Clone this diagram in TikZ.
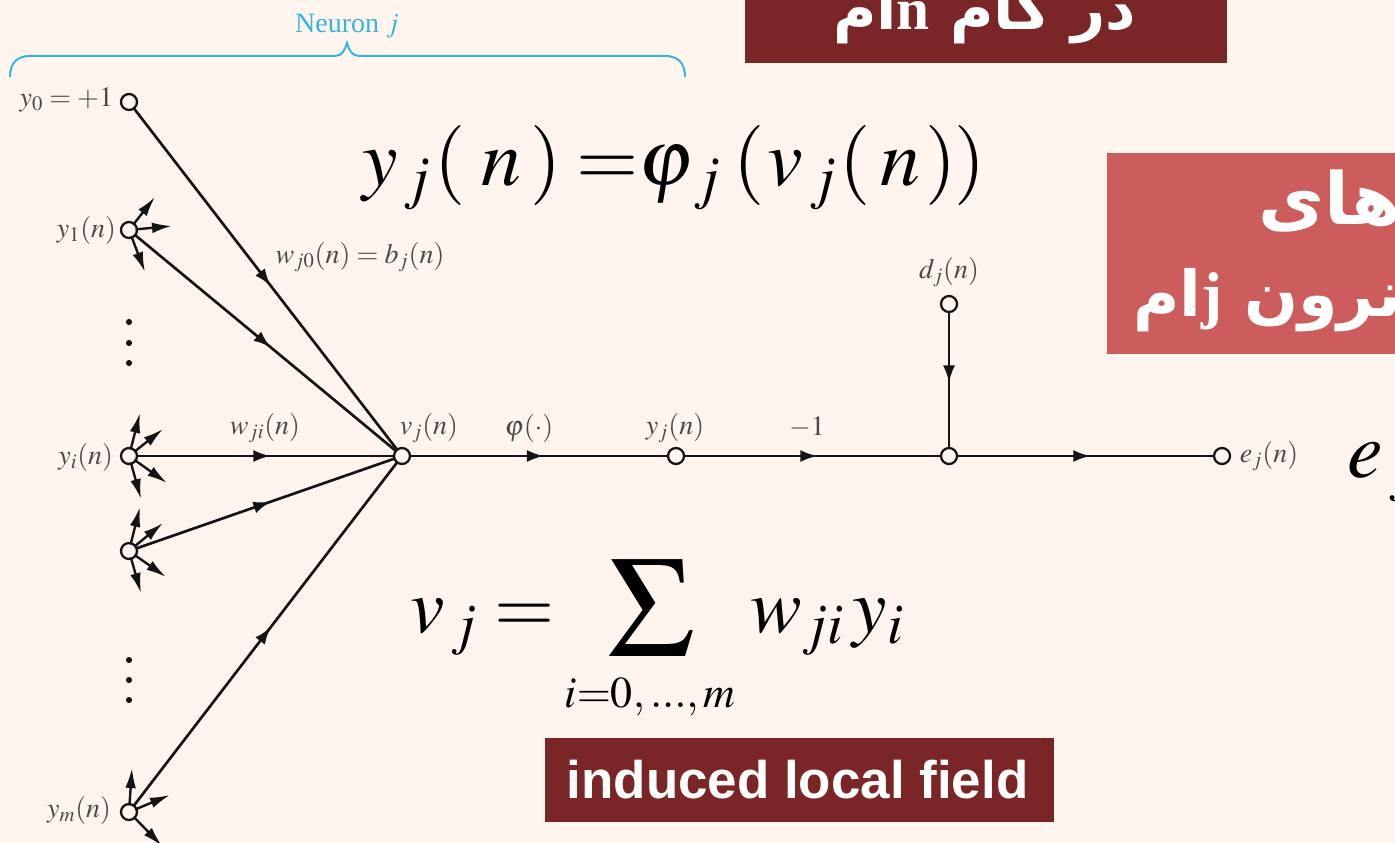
\documentclass[tikz,border=0pt]{standalone}
\usepackage{mathptmx}
\usepackage[no-math]{fontspec}
\setmainfont{Liberation Serif}
\setsansfont{Liberation Sans}
\newfontfamily\arabicfont[Script=Arabic]{DejaVu Sans}
\TeXXeTstate=1
\usetikzlibrary{arrows.meta,decorations.markings}
\definecolor{mbg}{HTML}{FFF5EE}
\definecolor{mdark}{HTML}{7B2626}
\definecolor{mrose}{HTML}{CD5C5C}
\definecolor{mcyan}{HTML}{35B4DC}
\definecolor{ink}{HTML}{141414}
\definecolor{mgrayL}{HTML}{4A4A4A}
\tikzset{
  every node/.style={inner sep=0pt, outer sep=0pt},
  nd/.style   ={circle, draw=ink, fill=mbg, line width=1.7pt, minimum size=12pt},
  dotn/.style ={circle, fill=ink, minimum size=4.6pt},
  lbl/.style  ={font=\fontsize{21}{23}\selectfont, text=mgrayL},
  big/.style  ={font=\fontsize{60}{64}\selectfont, text=black, anchor=base west},
  fars/.style ={font=\arabicfont\bfseries\fontsize{47.5}{50}\selectfont, text=white, anchor=base west},
  stub/.style ={-{Latex[length=15pt,width=8pt]}, line width=1.8pt, draw=ink, shorten <=-1pt},
  lnk/.style  ={line width=2pt, draw=ink, postaction={decorate},
                decoration={markings, mark=at position 0.52 with {\arrow{Latex[length=13pt,width=9pt]}}}},
}
\begin{document}
\begin{tikzpicture}[x=0.75pt,y=-0.75pt]
\fill[mbg] (0,0) rectangle (1395,842);
\useasboundingbox (0,0) rectangle (1395,842);
\clip (0,0) rectangle (1395,842);

% ============ banners =======================================================
\fill[mdark] (745,0) rectangle (1227,63);
\fill[mrose] (1107,153) rectangle (1395,354);
\fill[mdark] (545,738) rectangle (1054,822);
\node[fars, font=\arabicfont\bfseries\fontsize{44.5}{46}\selectfont] (tstep) at (833,30) {\beginR در گام \beginL{\rmfamily\bfseries n}\endL ام\endR};
\node[fars, font=\arabicfont\bfseries\fontsize{54}{58}\selectfont] (thay) at (1258,224) {\beginR های\endR};
\node[fars] (tnrn) at (1133,316) {\beginR نرون \beginL{\rmfamily\bfseries j}\endL ام\endR};
\node[text=white, font=\sffamily\bfseries\fontsize{39.7}{42}\selectfont] (tfield) at (797.5,780) {induced local field};

% ============ graph nodes ===================================================
\node[nd] (y0) at (129,102) {};
\node[nd] (y1) at (129,230) {};
\node[nd] (yi) at (129,456) {};
\node[nd] (yk) at (129,551) {};
\node[nd] (ym) at (129,812) {};
\node[nd] (vj) at (402,456) {};
\node[nd] (yj) at (676,456) {};
\node[nd] (dj) at (949,304) {};
\node[nd] (jn) at (949,456) {};
\node[nd] (ej) at (1222,456) {};

% links into and along the signal line
\foreach \a/\b in {y0/vj,y1/vj,yi/vj,yk/vj,ym/vj,vj/yj,yj/jn,dj/jn,jn/ej}{
  \draw[lnk] (\a) -- (\b);
}
% outgoing stubs
\foreach \k/\src/\tx/\ty in {a/y1/155/197,b/y1/172/226,c/y1/145/272,
  d/yi/140/413,e/yi/163/429,f/yi/167/483,g/yi/141/499,
  h/yk/140/507,i/yk/163/523,l/yk/166/577,m/yk/141/593,
  n/ym/132/768,o/ym/170/795,p/ym/162/846}{
  \coordinate (s\k) at (\tx,\ty);
  \draw[stub] (\src) -- (s\k);
}
% dots
\foreach \i/\p in {1/322,2/343,3/363,4/660,5/680,6/700}{
  \node[dotn] (dot\i) at (129,\p) {};
}

% ============ brace =========================================================
\draw[mcyan, line width=1.5pt] (10,77) .. controls (10,62) and (18,56) .. (30,56) -- (335,56)
  .. controls (342,56) and (345,50) .. (347,43) .. controls (349,50) and (352,56) .. (359,56)
  -- (665,56) .. controls (677,56) and (685,62) .. (685,77);
\node[lbl, text=mcyan] (tneu) at (347,26) {Neuron $j$};

% ============ small labels ==================================================
\node[lbl, anchor=east] (ly0) at (113,100) {$y_0=+1$};
\node[lbl, anchor=east] (ly1) at (116,230) {$y_1(n)$};
\node[lbl, anchor=east] (lyi) at (113,457) {$y_i(n)$};
\node[lbl, anchor=east] (lym) at (111,810) {$y_m(n)$};
\node[lbl] (lw0) at (360,257) {$w_{j0}(n)=b_j(n)$};
\node[lbl] (lwi) at (265,428) {$w_{ji}(n)$};
\node[lbl] (lvj) at (429,428) {$v_j(n)$};
\node[lbl] (lph) at (529,428) {$\varphi(\cdot)$};
\node[lbl] (lyj) at (675,428) {$y_j(n)$};
\node[lbl] (lm1) at (807,427) {$-1$};
\node[lbl] (ldj) at (949,272) {$d_j(n)$};
\node[lbl] (lej) at (1269,456) {$e_j(n)$};

% ============ formulas ======================================================
\node[big] (fyj) at (362,185) {$y_{\,j}\kern2.25pt(\kern12pt n\,)\!\kern5pt=\!\kern-7pt\varphi_{\,j}\kern9pt(\kern2.25pt v_{\,j}\kern2.25pt(\kern7.5pt n\kern3.75pt)\kern-1.5pt)$};
\node[big, font=\fontsize{58}{62}\selectfont] (fvj) at (410,632) {$v_{\,j}=$};
\node[font=\fontsize{108}{108}\selectfont, text=black] (fsum) at (651,608) {$\Sigma$};
\node[font=\fontsize{33}{36}\selectfont, text=black] (flim) at (650,697) {$i{=}0,...,m$};
\node[big, font=\fontsize{58}{62}\selectfont] (fwy) at (750,632) {$w_{ji}\,y_i$};
\node[big] (fej) at (1347,477) {$e_{\,j}$};

\end{tikzpicture}
\end{document}
